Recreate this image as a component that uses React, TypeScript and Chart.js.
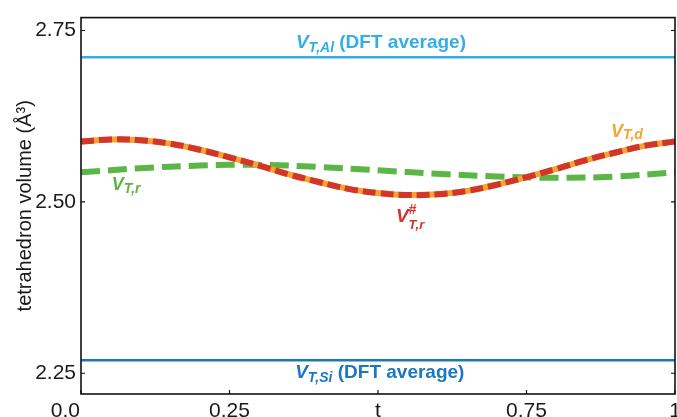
import { useEffect, useRef } from "react";
import { Chart, registerables } from "chart.js";

Chart.register(...registerables);

// ---- data ----
const tFine = [0, 0.05, 0.1, 0.15, 0.2, 0.25, 0.3, 0.35, 0.4, 0.45, 0.5, 0.55, 0.6, 0.65, 0.7, 0.75, 0.8, 0.85, 0.9, 0.95, 1];
const vTdValues = [2.588, 2.591, 2.590, 2.585, 2.576, 2.565, 2.553, 2.540, 2.529, 2.519, 2.513, 2.510, 2.511, 2.516, 2.525, 2.536, 2.548, 2.561, 2.572, 2.582, 2.588];
const tCoarse = [0, 0.1, 0.2, 0.3, 0.4, 0.5, 0.6, 0.7, 0.8, 0.9, 1];
const vTrValues = [2.543, 2.549, 2.553, 2.554, 2.551, 2.546, 2.541, 2.537, 2.535, 2.537, 2.543];
const vAlAverage = 2.711;
const vSiAverage = 2.269;
const xTickValues = [0, 0.25, 0.5, 0.75, 1];
const xTickLabels = ["0.0", "0.25", "t", "0.75", "1"];
const yTickValues = [2.25, 2.5, 2.75];
const yTickLabels = ["2.25", "2.50", "2.75"];
const yMin = 2.2197;
const yMax = 2.7688;

const FONT = '"Liberation Sans", Arial, Helvetica, sans-serif';

const C_AL = "#35aee4";
const C_SI = "#1a78be";
const C_GREEN = "#5bb547";
const C_RED = "#d2352a";
const C_ORANGE = "#f2a531";

type Seg = { text: string; size: number; italic?: boolean; dy?: number; noAdvance?: boolean };
type Label = { x: number; y: number; color: string; segs: Seg[] };

const labels: Label[] = [
  {
    x: 0.505, y: 2.724, color: C_AL,
    segs: [
      { text: "V", size: 19, italic: true },
      { text: "T,Al", size: 14, italic: true, dy: 4 },
      { text: " (DFT average)", size: 19 },
    ],
  },
  {
    x: 0.503, y: 2.243, color: C_SI,
    segs: [
      { text: "V", size: 19, italic: true },
      { text: "T,Si", size: 14, italic: true, dy: 4 },
      { text: " (DFT average)", size: 19 },
    ],
  },
  {
    x: 0.919, y: 2.595, color: C_ORANGE,
    segs: [
      { text: "V", size: 18, italic: true },
      { text: "T,d", size: 14, italic: true, dy: 2 },
    ],
  },
  {
    x: 0.076, y: 2.517, color: C_GREEN,
    segs: [
      { text: "V", size: 18, italic: true },
      { text: "T,r", size: 14, italic: true, dy: 3 },
    ],
  },
  {
    x: 0.554, y: 2.471, color: C_RED,
    segs: [
      { text: "V", size: 19, italic: true },
      { text: "#", size: 14, italic: true, dy: -8, noAdvance: true },
      { text: "T,r", size: 13, italic: true, dy: 7 },
    ],
  },
];

function fontOf(s: Seg) {
  return `${s.italic ? "italic " : ""}bold ${s.size}px ${FONT}`;
}

function drawRich(ctx: CanvasRenderingContext2D, segs: Seg[], cx: number, base: number, color: string) {
  let total = 0;
  segs.forEach((s) => {
    ctx.font = fontOf(s);
    if (!s.noAdvance) total += ctx.measureText(s.text).width;
  });
  let x = cx - total / 2;
  ctx.fillStyle = color;
  ctx.textAlign = "left";
  ctx.textBaseline = "alphabetic";
  segs.forEach((s) => {
    ctx.font = fontOf(s);
    ctx.fillText(s.text, x, base + (s.dy || 0));
    if (!s.noAdvance) x += ctx.measureText(s.text).width;
  });
}

const decorPlugin = {
  id: "decor",
  afterDraw(chart: any) {
    const ctx: CanvasRenderingContext2D = chart.ctx;
    const { left, right, top, bottom } = chart.chartArea;
    const xs = chart.scales.x;
    const ys = chart.scales.y;
    ctx.save();
    // frame
    ctx.strokeStyle = "#111";
    ctx.lineWidth = 1.6;
    ctx.strokeRect(left, top, right - left, bottom - top);
    // inward ticks
    ctx.lineWidth = 1.2;
    ctx.beginPath();
    xTickValues.forEach((v) => {
      const px = xs.getPixelForValue(v);
      ctx.moveTo(px, bottom);
      ctx.lineTo(px, bottom - 4);
    });
    yTickValues.forEach((v) => {
      const py = ys.getPixelForValue(v);
      ctx.moveTo(left, py);
      ctx.lineTo(left + 4, py);
      ctx.moveTo(right, py);
      ctx.lineTo(right - 4, py);
    });
    ctx.stroke();
    // x tick labels
    ctx.fillStyle = "#1a1a1a";
    ctx.font = `21px ${FONT}`;
    ctx.textBaseline = "alphabetic";
    xTickValues.forEach((v, i) => {
      const px = xs.getPixelForValue(v);
      if (i === 0) {
        ctx.textAlign = "right";
        ctx.fillText(xTickLabels[i], px - 1, bottom + 23);
      } else {
        ctx.textAlign = "center";
        ctx.fillText(xTickLabels[i], px, bottom + 23);
      }
    });
    // y title
    ctx.save();
    ctx.translate(25, (top + bottom) / 2);
    ctx.rotate(-Math.PI / 2);
    ctx.textAlign = "center";
    ctx.textBaseline = "middle";
    ctx.font = `20px ${FONT}`;
    ctx.fillStyle = "#1a1a1a";
    ctx.fillText("tetrahedron volume (Å³)", 0, 0);
    ctx.restore();
    // labels
    labels.forEach((l) => {
      drawRich(ctx, l.segs, xs.getPixelForValue(l.x), ys.getPixelForValue(l.y), l.color);
    });
    ctx.restore();
  },
};

export default function App() {
  const ref = useRef<HTMLCanvasElement | null>(null);
  useEffect(() => {
    document.body.style.margin = "0";
    const canvas = ref.current;
    if (!canvas) return;
    const curve = tFine.map((t, i) => ({ x: t, y: vTdValues[i] }));
    const green = tCoarse.map((t, i) => ({ x: t, y: vTrValues[i] }));
    const chart = new Chart(canvas, {
      type: "line",
      data: {
        datasets: [
          {
            label: "V#T,r",
            data: curve,
            borderColor: C_RED,
            borderWidth: 6,
            borderDash: [13, 5],
            pointRadius: 0,
            tension: 0.4,
            fill: false,
            order: 0,
          },
          {
            label: "VT,d",
            data: curve,
            borderColor: C_ORANGE,
            borderWidth: 6,
            pointRadius: 0,
            tension: 0.4,
            fill: false,
            order: 1,
          },
          {
            label: "VT,r",
            data: green,
            borderColor: C_GREEN,
            borderWidth: 6,
            borderDash: [19, 8],
            pointRadius: 0,
            tension: 0.4,
            fill: false,
            order: 2,
          },
          {
            label: "VT,Al",
            data: [{ x: 0, y: vAlAverage }, { x: 1, y: vAlAverage }],
            borderColor: C_AL,
            borderWidth: 2.6,
            pointRadius: 0,
            order: 3,
          },
          {
            label: "VT,Si",
            data: [{ x: 0, y: vSiAverage }, { x: 1, y: vSiAverage }],
            borderColor: C_SI,
            borderWidth: 2.6,
            pointRadius: 0,
            order: 4,
          },
        ],
      },
      options: {
        animation: false,
        responsive: true,
        maintainAspectRatio: false,
        layout: { padding: { top: 14, right: 2, left: 0, bottom: 0 } },
        plugins: { legend: { display: false }, tooltip: { enabled: false } },
        scales: {
          x: {
            type: "linear",
            min: 0,
            max: 1,
            grid: { display: false },
            border: { display: false },
            ticks: { display: false },
            afterBuildTicks: (s: any) => {
              s.ticks = xTickValues.map((v) => ({ value: v }));
            },
            afterFit: (s: any) => {
              s.height = 23;
            },
          },
          y: {
            type: "linear",
            min: yMin,
            max: yMax,
            grid: { display: false, drawTicks: false },
            border: { display: false },
            ticks: {
              padding: 5,
              color: "#1a1a1a",
              font: { family: FONT, size: 21 },
              callback: (v: any) => {
                const i = yTickValues.findIndex((t) => Math.abs(t - Number(v)) < 1e-6);
                return i >= 0 ? yTickLabels[i] : "";
              },
            },
            afterBuildTicks: (s: any) => {
              s.ticks = yTickValues.map((v) => ({ value: v }));
            },
            afterFit: (s: any) => {
              s.width = 81;
            },
          },
        },
      },
      plugins: [decorPlugin],
    });
    return () => chart.destroy();
  }, []);
  return (
    <div style={{ width: 677, height: 417, position: "relative" }}>
      <canvas ref={ref} />
    </div>
  );
}
